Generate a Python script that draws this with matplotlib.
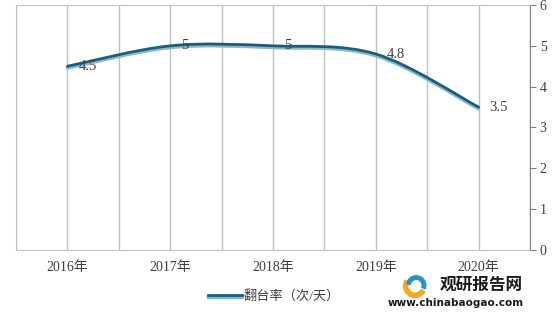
import matplotlib
matplotlib.use("Agg")
import matplotlib.pyplot as plt
import matplotlib.patheffects as pe
from matplotlib.path import Path
from matplotlib.patches import PathPatch, Wedge
from matplotlib.lines import Line2D

# ------------------------------------------------------------
# Data
# ------------------------------------------------------------
years = ["2016年", "2017年", "2018年", "2019年", "2020年"]
turnover = [4.5, 5, 5, 4.8, 3.5]
value_labels = ["4.5", "5", "5", "4.8", "3.5"]
series_name = "翻台率（次/天）"
y_ticks = [0, 1, 2, 3, 4, 5, 6]

LINE_DARK = "#1b5d7c"
LINE_LIGHT = "#8ab8cf"
GRID = "#bfbfbf"
TEXT = "#404040"
FONT = ["Liberation Serif", "Noto Sans CJK SC"]


def smooth_path(xs, ys):
    """Excel-style smoothed line: cubic Bezier through every point."""
    n = len(xs)
    verts = [(xs[0], ys[0])]
    codes = [Path.MOVETO]
    for i in range(n - 1):
        x0, y0 = (xs[i - 1], ys[i - 1]) if i > 0 else (xs[i], ys[i])
        x3, y3 = (xs[i + 2], ys[i + 2]) if i + 2 < n else (xs[i + 1], ys[i + 1])
        x1, y1 = xs[i], ys[i]
        x2, y2 = xs[i + 1], ys[i + 1]
        c1 = (x1 + (x2 - x0) / 6, y1 + (y2 - y0) / 6)
        c2 = (x2 - (x3 - x1) / 6, y2 - (y3 - y1) / 6)
        verts += [c1, c2, (x2, y2)]
        codes += [Path.CURVE4] * 3
    return Path(verts, codes)


fig = plt.figure(figsize=(5.59, 3.14), dpi=100)
ax = fig.add_axes([16 / 559, 64 / 314, 514 / 559, 245 / 314])

xs = list(range(len(years)))
patch = PathPatch(smooth_path(xs, turnover), facecolor="none",
                  edgecolor=LINE_DARK, lw=2.0, capstyle="round",
                  path_effects=[pe.SimpleLineShadow(offset=(0, -1.3),
                                                    shadow_color=LINE_LIGHT,
                                                    alpha=1.0, linewidth=2.4),
                                pe.Normal()])
ax.add_patch(patch)

for x, v, lab in zip(xs, turnover, value_labels):
    ax.annotate(lab, (x, v), xytext=(8, 0), textcoords="offset points",
                ha="left", va="center", fontsize=10.5, color=TEXT, family=FONT)

ax.set_xlim(-0.5, len(years) - 0.5)
ax.set_ylim(0, 6)

# vertical grid at every half category
for g in [i * 0.5 - 0.5 for i in range(2 * len(years) + 1)]:
    ax.axvline(g, color=GRID, lw=1.0, zorder=0)

ax.set_xticks(xs)
ax.set_xticklabels(years, fontsize=10, color=TEXT, family=FONT)
ax.tick_params(axis="x", length=0, pad=8)

ax.yaxis.tick_right()
ax.set_yticks(y_ticks)
ax.set_yticklabels([str(t) for t in y_ticks], fontsize=10, color=TEXT, family=FONT)
ax.tick_params(axis="y", length=4, color="#808080", pad=3)

for side in ["left", "top", "bottom"]:
    ax.spines[side].set_color(GRID)
ax.spines["right"].set_color("#808080")

handle = Line2D([0], [0], color=LINE_DARK, lw=2.0,
                path_effects=[pe.SimpleLineShadow(offset=(0, -1.2),
                                                  shadow_color=LINE_LIGHT,
                                                  alpha=1.0, linewidth=2.4),
                              pe.Normal()])
fig.legend(handles=[handle], labels=[series_name], loc="center",
           bbox_to_anchor=(0.49, 0.057), frameon=False, handlelength=2.6,
           handletextpad=0.1, prop={"family": FONT, "size": 9.5},
           labelcolor=TEXT)

# watermark
fig.text(0.935, 0.093, "观研报告网", ha="right", va="center", fontsize=12,
         fontweight="bold", color="#1a1a1a", family="Noto Sans CJK SC")
fig.text(0.937, 0.034, "www.chinabaogao.com", ha="right", va="center",
         fontsize=7.5, fontweight="bold", color="#1a1a1a", family="DejaVu Sans")
logo = fig.add_axes([398 / 559, 16 / 314, 34 / 559, 24 / 314])
logo.set_xlim(-1.4, 1.4)
logo.set_ylim(-1, 1)
logo.set_aspect("equal")
logo.axis("off")
logo.add_patch(Wedge((0, 0), 0.95, 150, 330, width=0.35, color="#f5a623"))
logo.add_patch(Wedge((0.1, 0.05), 0.8, -20, 170, width=0.3, color="#2b8fd0"))

fig.savefig("out.png", dpi=100)
